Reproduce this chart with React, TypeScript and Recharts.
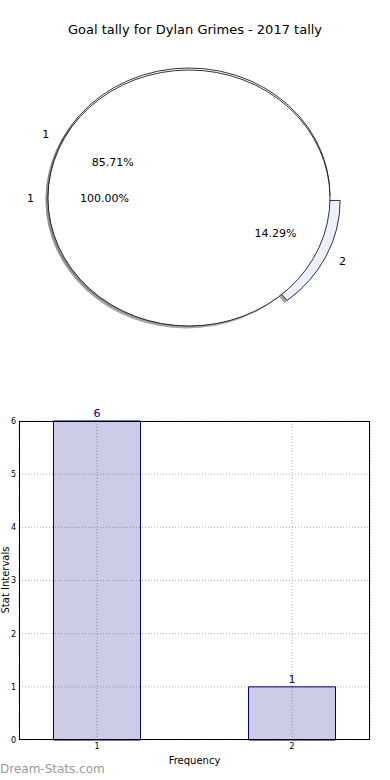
import React from 'react'
import {
  PieChart,
  Pie,
  Cell,
  BarChart,
  Bar,
  XAxis,
  YAxis,
  CartesianGrid,
  LabelList,
} from 'recharts'

// pie: goal tally split
const sliceNames = ['1', '2']
const sliceValues = [6, 1]
const sliceColors = ['#ffffff', '#ebf0fc']
// pie drawn on top: one full slice
const totalNames = ['1']
const totalValues = [1]
// bar chart
const freqValues = [1, 2]
const freqCounts = [6, 1]
const yTicks = [0, 1, 2, 3, 4, 5, 6]

const sliceData = sliceNames.map((name, i) => ({ name, value: sliceValues[i] }))
const totalData = totalNames.map((name, i) => ({ name, value: totalValues[i] }))
const barData = freqValues.map((freq, i) => ({ freq, count: freqCounts[i] }))

const FONT = '"DejaVu Sans", sans-serif'
const ELL = 128 / 141 // pie is squashed vertically like the original
const EXPLODE: Record<string, number> = { '2': 0.08 }
const RAD = Math.PI / 180

function ellPoint(cx: number, cy: number, r: number, deg: number) {
  return [cx + r * Math.cos(deg * RAD), cy - r * ELL * Math.sin(deg * RAD)]
}

function sectorPath(cx: number, cy: number, r: number, s: number, e: number) {
  const span = e - s
  const ry = r * ELL
  if (Math.abs(span) >= 359.99) {
    return `M ${cx - r} ${cy} A ${r} ${ry} 0 1 0 ${cx + r} ${cy} A ${r} ${ry} 0 1 0 ${cx - r} ${cy} Z`
  }
  const [x0, y0] = ellPoint(cx, cy, r, s)
  const [x1, y1] = ellPoint(cx, cy, r, e)
  const large = Math.abs(span) > 180 ? 1 : 0
  const sweep = span > 0 ? 0 : 1
  return `M ${cx} ${cy} L ${x0} ${y0} A ${r} ${ry} 0 ${large} ${sweep} ${x1} ${y1} Z`
}

const makeSlice = (explode: Record<string, number>) => (props: any) => {
  const { cx, cy, outerRadius, startAngle, endAngle, fill, name, payload } = props
  const key = name ?? payload?.name
  const mid = (startAngle + endAngle) / 2
  const d = (explode[key] || 0) * outerRadius
  const ox = cx + d * Math.cos(mid * RAD)
  const oy = cy - d * ELL * Math.sin(mid * RAD)
  return (
    <g>
      <path d={sectorPath(ox - 2.5, oy + 2.5, outerRadius, startAngle, endAngle)} fill="#808080" fillOpacity={0.7} stroke="none" />
      <path d={sectorPath(ox, oy, outerRadius, startAngle, endAngle)} fill={fill} stroke="#000" strokeWidth={0.8} />
    </g>
  )
}

const hiddenSlice = () => <g />

const makeLabel = (explode: Record<string, number>) => (p: any) => {
  const { cx, cy, midAngle, outerRadius, percent, name } = p
  const a = midAngle * RAD
  const d = (explode[name] || 0) * outerRadius
  const ox = cx + d * Math.cos(a)
  const oy = cy - d * ELL * Math.sin(a)
  const lx = ox + 1.1 * outerRadius * Math.cos(a)
  const ly = oy - 1.1 * outerRadius * ELL * Math.sin(a)
  const px = ox + 0.6 * outerRadius * Math.cos(a)
  const py = oy - 0.6 * outerRadius * ELL * Math.sin(a)
  return (
    <g>
      <text x={lx} y={ly} textAnchor={Math.cos(a) < 0 ? 'end' : 'start'} dominantBaseline="central" fontSize={11} fill="#000" fontFamily={FONT}>
        {name}
      </text>
      <text x={px} y={py} textAnchor="middle" dominantBaseline="central" fontSize={11} fill="#000" fontFamily={FONT}>
        {(percent * 100).toFixed(2)}%
      </text>
    </g>
  )
}

const sliceShape = makeSlice(EXPLODE)
const totalShape = makeSlice({})

export default function App() {
  return (
    <div style={{ position: 'absolute', left: 0, top: 0, width: 390, height: 780, background: '#fff', fontFamily: FONT }}>
      <div style={{ position: 'absolute', top: 22, left: 0, width: 390, textAlign: 'center', fontSize: 13, color: '#000' }}>
        Goal tally for Dylan Grimes - 2017 tally
      </div>

      <div style={{ position: 'absolute', top: 0, left: 0 }}>
        <PieChart width={390} height={380} margin={{ top: 0, right: 0, bottom: 0, left: 0 }}>
          <Pie
            data={sliceData}
            dataKey="value"
            nameKey="name"
            cx={189}
            cy={196}
            outerRadius={141}
            startAngle={0}
            endAngle={360}
            shape={sliceShape}
            activeShape={sliceShape}
            inactiveShape={sliceShape}
            isAnimationActive={false}
          >
            {sliceData.map((e, i) => <Cell key={e.name} fill={sliceColors[i]} />)}
          </Pie>
          <Pie
            data={totalData}
            dataKey="value"
            nameKey="name"
            cx={189}
            cy={198}
            outerRadius={141}
            startAngle={0}
            endAngle={360}
            shape={totalShape}
            activeShape={totalShape}
            inactiveShape={totalShape}
            label={makeLabel({})}
            labelLine={false}
            isAnimationActive={false}
          >
            {totalData.map((e) => <Cell key={e.name} fill="#ffffff" />)}
          </Pie>
          {/* labels of the split pie drawn last so they sit on top */}
          <Pie
            data={sliceData}
            dataKey="value"
            nameKey="name"
            cx={189}
            cy={196}
            outerRadius={141}
            startAngle={0}
            endAngle={360}
            shape={hiddenSlice}
            activeShape={hiddenSlice}
            inactiveShape={hiddenSlice}
            label={makeLabel(EXPLODE)}
            labelLine={false}
            isAnimationActive={false}
          />
        </PieChart>
      </div>

      <div style={{ position: 'absolute', top: 400, left: 0 }}>
        <BarChart width={390} height={380} data={barData} margin={{ top: 21, right: 20, bottom: 20, left: 0 }}>
          <CartesianGrid stroke="#b0b0b0" strokeDasharray="1 2" />
          <XAxis
            dataKey="freq"
            type="number"
            domain={[0.6, 2.4]}
            ticks={freqValues}
            height={20}
            axisLine={false}
            tickLine={false}
            tickSize={0}
            tickMargin={3}
            tick={{ fontSize: 8, fill: '#000', fontFamily: FONT }}
          />
          <YAxis
            domain={[0, 6]}
            ticks={yTicks}
            width={19}
            axisLine={false}
            tickLine={false}
            tickSize={0}
            tickMargin={3}
            tick={{ fontSize: 8, fill: '#000', fontFamily: FONT }}
          />
          <Bar dataKey="count" fill="#000080" fillOpacity={0.2} stroke="#000080" strokeWidth={1} barSize={87} isAnimationActive={false}>
            <LabelList dataKey="count" position="top" offset={4} fill="#000080" fontSize={11} fontFamily={FONT} />
          </Bar>
        </BarChart>
      </div>

      {/* axes frame */}
      <div style={{ position: 'absolute', left: 19, top: 421, width: 351, height: 319, border: '1px solid #000', boxSizing: 'border-box', pointerEvents: 'none' }} />

      <div style={{ position: 'absolute', left: -54, top: 574, width: 120, height: 12, lineHeight: '12px', fontSize: 10, textAlign: 'center', transform: 'rotate(-90deg)', color: '#000' }}>
        Stat Intervals
      </div>
      <div style={{ position: 'absolute', left: 0, top: 755, width: 389, textAlign: 'center', fontSize: 10, lineHeight: '12px', color: '#000' }}>
        Frequency
      </div>
      <div style={{ position: 'absolute', left: 0, top: 762, fontSize: 12, lineHeight: '14px', color: '#999' }}>
        Dream-Stats.com
      </div>
    </div>
  )
}
